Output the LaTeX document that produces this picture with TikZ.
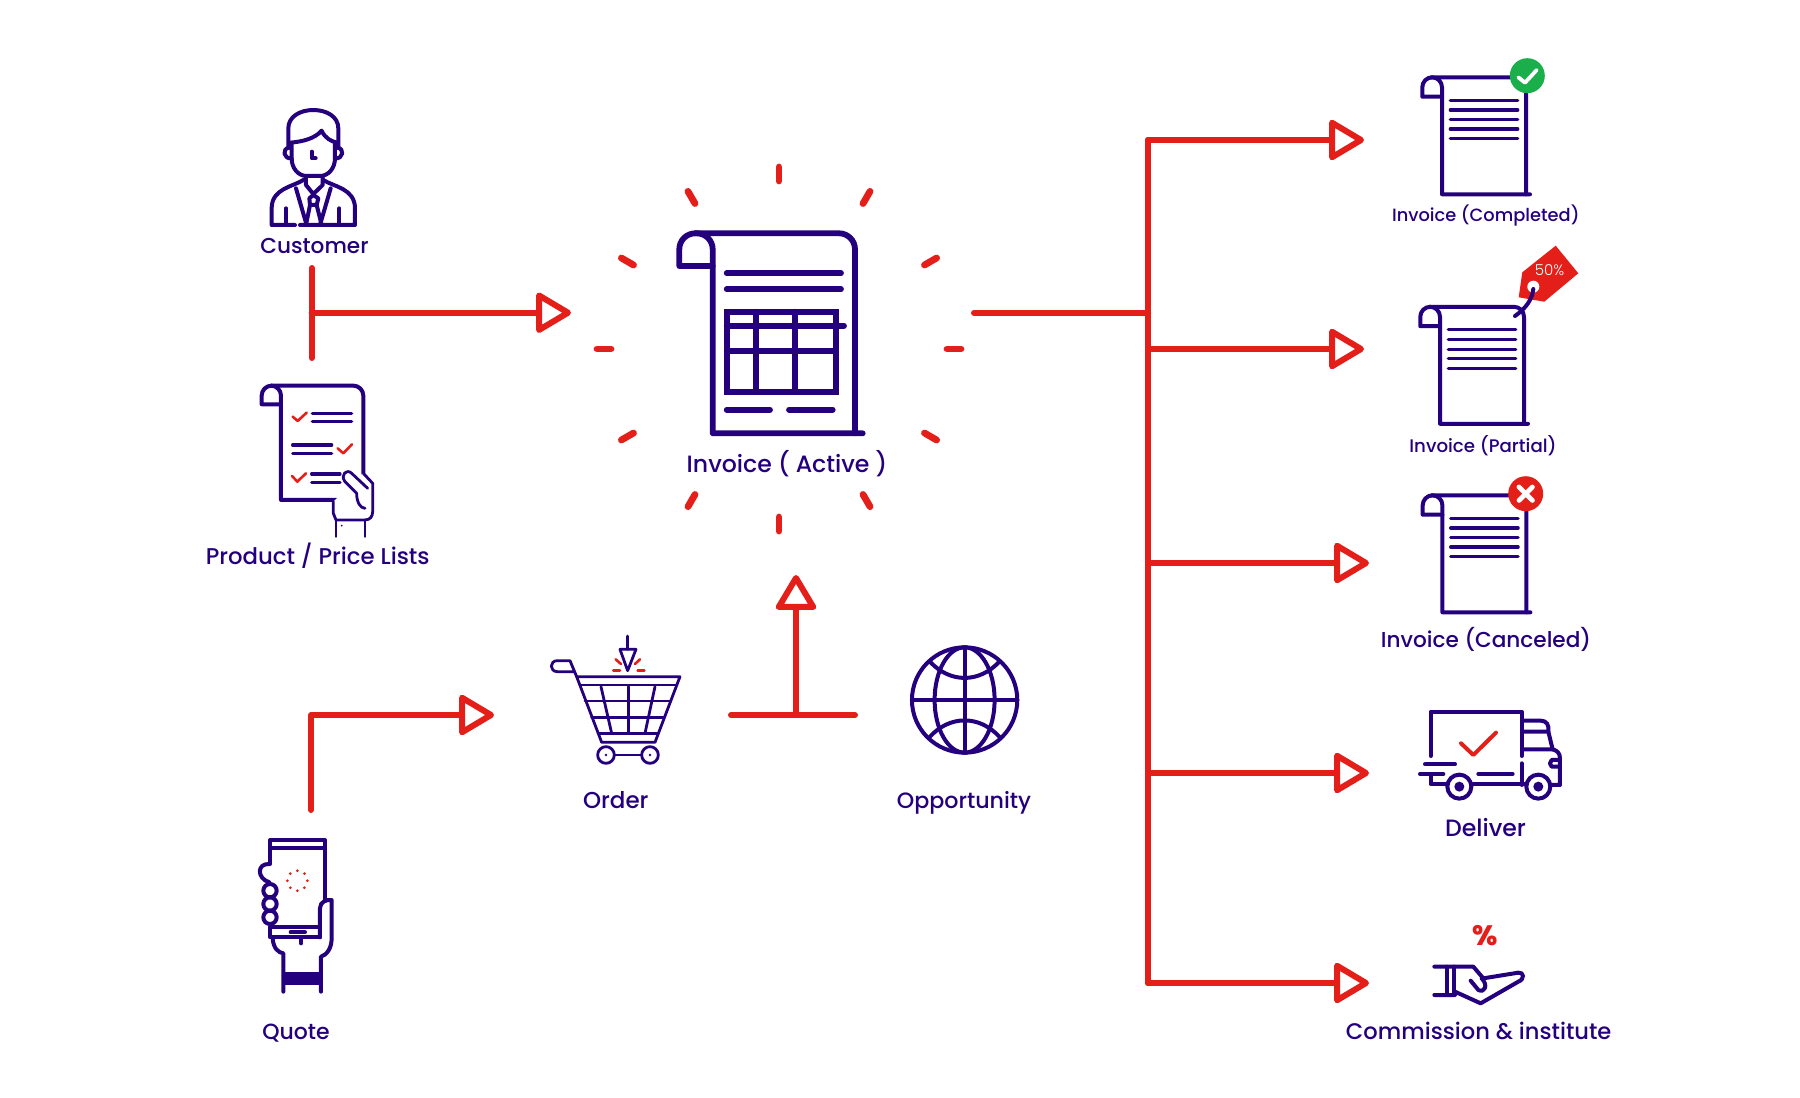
\documentclass[tikz,border=0pt]{standalone}
\usepackage{fontspec}
\setmainfont{Poppins Medium}
\newfontfamily\tagfont{Poppins Light}
\usetikzlibrary{arrows.meta}
\definecolor{navyline}{HTML}{24007F}
\definecolor{redline}{HTML}{E41F1A}
\definecolor{greenbadge}{HTML}{1AAF4B}
\tikzset{
    flow/.style={draw=redline, line width=3pt, line cap=round, line join=round},
    flowarrow/.style={flow, -{Triangle[open,round,length=19pt,width=21.7pt]}},
    ray/.style={draw=redline, line width=3.4pt, line cap=round},
    icon/.style={draw=navyline, line width=2pt, line cap=round, line join=round},
    bigicon/.style={draw=navyline, line width=2.9pt, line cap=round, line join=round},
    thinicon/.style={draw=navyline, line width=1.4pt, line cap=round, line join=round},
    redmark/.style={draw=redline, line width=1.3pt, line cap=round, line join=round},
    caption/.style={text=navyline, anchor=base, inner sep=0pt},
    pics/smalldoc/.style={code={
        \draw[icon] (19.7,19.4) -- (0,19.4) [rounded corners=5pt] -- (0,0) -- (103.7,0) [sharp corners] -- (103.7,117);
        \draw[icon] (107.7,117) -- (19.7,117) [rounded corners=5pt] -- (19.7,0) -- (9,0);
        \foreach \y in {23,32.7,42.4,51.7,61.4}
            \draw[icon, line width=1.65pt] (28,\y) -- (95.4,\y);
    }},
}
\begin{document}
\begin{tikzpicture}[x=0.5pt, y=-0.5pt]
    \useasboundingbox (0,0) rectangle (1800,1098);
    % Coordinate
    \coordinate (customerBar) at (311.7,268);
    \coordinate (productBar) at (311.7,358);
    \coordinate (inputJoin) at (311.7,312.7);
    \coordinate (inputEnd) at (571,312.7);
    \coordinate (quoteStart) at (311,810);
    \coordinate (quoteCorner) at (311,715);
    \coordinate (quoteEnd) at (494,715);
    \coordinate (orderBar) at (731,715);
    \coordinate (opportunityBar) at (855,715);
    \coordinate (orderJoin) at (796,715);
    \coordinate (orderEnd) at (796,575);
    \coordinate (outStart) at (974,312.7);
    \coordinate (outJoin) at (1148,312.7);
    \coordinate (busTop) at (1148,140);
    \coordinate (busBottom) at (1148,983);
    \coordinate (completedEnd) at (1364,140);
    \coordinate (partialJoin) at (1148,349);
    \coordinate (partialEnd) at (1364,349);
    \coordinate (canceledJoin) at (1148,563);
    \coordinate (canceledEnd) at (1369,563);
    \coordinate (deliverJoin) at (1148,773);
    \coordinate (deliverEnd) at (1369,773);
    \coordinate (commissionEnd) at (1369,983);
    \coordinate (burst) at (779,349);

    % Linee
    \draw[flow] (customerBar) -- (productBar);
    \draw[flowarrow] (inputJoin) -- (inputEnd);
    \draw[flowarrow] (quoteStart) -- (quoteCorner) -- (quoteEnd);
    \draw[flow] (orderBar) -- (opportunityBar);
    \draw[flowarrow] (orderJoin) -- (orderEnd);
    \draw[flow] (outStart) -- (outJoin);
    \draw[flowarrow] (busBottom) -- (commissionEnd);
    \draw[flowarrow] (busTop) -- (completedEnd);
    \draw[flow] (busTop) -- (busBottom);
    \draw[flowarrow] (partialJoin) -- (partialEnd);
    \draw[flowarrow] (canceledJoin) -- (canceledEnd);
    \draw[flowarrow] (deliverJoin) -- (deliverEnd);

    % Burst around the invoice
    \foreach \a in {0,30,...,330}
        \draw[ray] ([shift={(\a:168)}]burst) -- ([shift={(\a:182)}]burst);

    % Invoice active
    \draw[bigicon] (712.7,266) -- (679.3,266) [rounded corners=8pt] -- (679.3,233.3) -- (855,233.3) [sharp corners] -- (855,433.3);
    \draw[bigicon] (862.7,433.3) -- (712.7,433.3) [rounded corners=8pt] -- (712.7,233.3) -- (695,233.3);
    \draw[bigicon] (726.7,273.3) -- (841,273.3);
    \draw[bigicon] (726.7,289.3) -- (841,289.3);
    \draw[bigicon, line cap=butt, line join=miter] (726.7,311.7) rectangle (836,391.7);
    \draw[bigicon] (756,311.7) -- (756,391.7);
    \draw[bigicon] (794.7,311.7) -- (794.7,391.7);
    \draw[bigicon] (726.7,325.7) -- (844,325.7);
    \draw[bigicon] (726.7,351.3) -- (836,351.3);
    \draw[bigicon] (726.7,409.7) -- (770,409.7);
    \draw[bigicon] (789,409.7) -- (832.7,409.7);

    % Invoice completed
    \pic at (1422.3,77.3) {smalldoc};
    \fill[greenbadge] (1527.3,75.7) circle (17.5);
    \draw[draw=white, line width=1.9pt, line cap=round, line join=round] (1518.3,77.3) -- (1525,82.7) -- (1536.7,70);

    % Invoice partial
    \pic at (1420.3,306.8) {smalldoc};
    \fill[redline] (1555.7,245.7) -- (1578.3,273.3) -- (1544.3,301.7) -- (1518.7,297.3) -- (1522.3,272.3) -- cycle;
    \fill[white] (1533.3,286.7) circle (6);
    \node[text=white, font=\tagfont\fontsize{7.5}{8}\selectfont, inner sep=0pt] (tagText) at (1549.5,270.5) {50\%};
    \draw[icon] (1533.3,289) .. controls (1532,300) and (1526,308) .. (1515,316);

    % Invoice canceled
    \pic at (1422.7,495.3) {smalldoc};
    \fill[redline] (1525.7,493.7) circle (17.5);
    \draw[draw=white, line width=2.4pt, line cap=round] (1519,487) -- (1532.4,500.4);
    \draw[draw=white, line width=2.4pt, line cap=round] (1532.4,487) -- (1519,500.4);

    % Customer
    \begin{scope}[shift={(200,90)}, scale=0.3333]
        \draw[icon] (265,170) -- (265,115) .. controls (265,80) and (300,60) .. (340,60) .. controls (380,60) and (415,80) .. (415,115) -- (415,170);
        \draw[icon] (270,158) .. controls (310,155) and (345,145) .. (365,122) .. controls (375,145) and (395,155) .. (412,158);
        \draw[icon] (275,160) -- (275,205) .. controls (275,235) and (295,258) .. (320,258) -- (360,258) .. controls (385,258) and (405,235) .. (405,205) -- (405,160);
        \draw[icon] (268,173) .. controls (245,175) and (250,208) .. (275,205);
        \draw[icon] (412,173) .. controls (435,175) and (430,208) .. (405,205);
        \draw[icon] (335,185) -- (335,205) -- (347,205);
        \draw[icon] (318,262) -- (318,285) -- (340,312) -- (368,285) -- (368,262);
        \draw[icon] (310,270) .. controls (280,290) and (215,295) .. (215,355) -- (215,405) -- (285,405);
        \draw[icon] (370,270) .. controls (400,290) and (465,295) .. (465,355) -- (465,405) -- (300,405);
        \draw[icon] (258,355) -- (258,405);
        \draw[icon] (418,355) -- (418,405);
        \draw[icon] (288,295) -- (320,405);
        \draw[icon] (392,295) -- (360,405);
        \draw[icon] (328,325) -- (340,315) -- (355,325) -- (350,345) -- (330,345) -- cycle;
        \draw[icon] (330,345) -- (318,405);
        \draw[icon] (350,345) -- (365,405);
    \end{scope}

    % Product list
    \begin{scope}[shift={(200,90)}, scale=0.3333]
        \draw[icon] (243,943) -- (185,943) [rounded corners=5pt] -- (185,887) -- (490,887) [sharp corners] -- (490,1150);
        \draw[icon] (470,1230) -- (243,1230) [rounded corners=5pt] -- (243,887) -- (215,887);
        \draw[redmark] (278,980) -- (293,993) -- (320,968);
        \draw[redmark] (413,1075) -- (430,1090) -- (456,1063);
        \draw[redmark] (276,1158) -- (292,1175) -- (318,1150);
        \draw[icon, line width=1.65pt] (337,970) -- (455,970);
        \draw[icon, line width=1.65pt] (337,995) -- (455,995);
        \draw[icon, line width=1.65pt] (278,1065) -- (395,1065);
        \draw[icon, line width=1.65pt] (278,1090) -- (395,1090);
        \draw[icon, line width=1.65pt] (335,1152) -- (420,1152);
        \draw[icon, line width=1.65pt] (335,1177) -- (420,1177);
        \draw[thinicon, fill=white] (490,1150) -- (518,1180) -- (518,1265) .. controls (518,1280) and (510,1290) .. (495,1290) -- (408,1290) -- (400,1270) -- (400,1235);
        \draw[thinicon, fill=white] (503,1195) -- (455,1150) .. controls (440,1135) and (420,1155) .. (435,1175) -- (470,1210) .. controls (470,1235) and (480,1255) .. (495,1255);
        \draw[thinicon] (408,1290) -- (408,1340);
        \draw[thinicon] (495,1290) -- (495,1340);
        \fill[navyline] (425,1307) circle (3);
    \end{scope}

    % Order cart
    \begin{scope}[shift={(530,620)}, scale=0.3333]
        \draw[thinicon] (140,170) -- (120,122) -- (82,122) .. controls (58,122) and (58,155) .. (82,155) -- (132,155);
        \draw[thinicon] (140,170) -- (450,170) -- (375,367) -- (215,367) -- cycle;
        \draw[thinicon] (150,195) -- (440,195);
        \draw[thinicon] (165,243) -- (420,243);
        \draw[thinicon] (185,293) -- (402,293);
        \draw[thinicon] (205,340) -- (385,340);
        \draw[thinicon] (213,200) -- (245,340);
        \draw[thinicon] (295,200) -- (295,340);
        \draw[thinicon] (375,200) -- (345,340);
        \draw[thinicon] (228,405) circle (25);
        \draw[thinicon] (360,405) circle (25);
        \draw[thinicon] (253,405) -- (335,405);
        \fill[navyline] (228,405) circle (4);
        \fill[navyline] (360,405) circle (4);
        \draw[thinicon] (293,48) -- (293,88);
        \draw[thinicon] (270,88) -- (318,88) -- (293,152) -- cycle;
        \draw[redmark] (250,152) -- (270,152);
        \draw[redmark] (323,152) -- (343,152);
        \draw[redmark] (257,118) -- (273,132);
        \draw[redmark] (330,118) -- (315,132);
    \end{scope}

    % Opportunity globe
    \begin{scope}[shift={(530,620)}, scale=0.3333]
        \draw[icon] (1304,240) circle (158);
        \draw[icon] (1304,240) ellipse (90 and 158);
        \draw[icon] (1304,82) -- (1304,398);
        \draw[icon] (1146,240) -- (1462,240);
        \draw[icon] (1200,125) .. controls (1260,190) and (1348,190) .. (1408,125);
        \draw[icon] (1200,350) .. controls (1260,285) and (1348,285) .. (1408,350);
    \end{scope}

    % Quote phone
    \begin{scope}[shift={(240,820)}, scale=0.3333]
        \draw[icon] (90,132) -- (90,60) -- (255,60) -- (255,240);
        \draw[icon] (90,85) -- (255,85);
        \draw[icon] (90,322) -- (90,352) -- (240,352);
        \draw[icon] (90,322) -- (240,322);
        \draw[icon] (152,337) -- (195,337);
        \draw[icon] (183,355) -- (183,370);
        \draw[icon] (88,132) .. controls (50,130) and (50,175) .. (88,187);
        \foreach \y in {212,252,292}
            \draw[icon] (90,\y) circle (20);
        \draw[icon] (240,352) -- (240,265) .. controls (240,245) and (260,238) .. (275,240) -- (275,355) .. controls (275,385) and (260,405) .. (243,410) -- (243,515);
        \draw[icon] (98,355) .. controls (100,385) and (115,398) .. (130,400) -- (130,515);
        \fill[navyline] (130,455) rectangle (243,495);
        \foreach \a in {0,45,...,315}
            \fill[redline] ([shift={(\a:30)}]172,182) circle (4.5);
    \end{scope}

    % Deliver truck
    \begin{scope}[shift={(1360,470)}, scale=0.3333]
        \draw[icon] (212,858) -- (212,725) -- (485,725) -- (485,858);
        \draw[icon] (485,880) -- (485,945);
        \draw[icon] (490,752) -- (542,752) .. controls (560,752) and (568,765) .. (565,785) -- (492,785);
        \draw[icon] (565,785) -- (578,838) -- (492,838);
        \draw[icon] (578,838) .. controls (592,842) and (600,850) .. (600,865) -- (600,945) -- (570,945);
        \draw[icon] (600,870) -- (575,870) -- (570,880) -- (575,890) -- (600,890);
        \draw[icon] (340,942) -- (500,942);
        \draw[icon] (212,920) -- (212,942) -- (260,942);
        \draw[icon] (195,883) -- (285,883);
        \draw[icon] (180,912) -- (250,912);
        \draw[icon] (355,912) -- (458,912);
        \draw[icon] (298,950) circle (36);
        \draw[icon] (535,950) circle (36);
        \fill[navyline] (298,950) circle (15);
        \fill[navyline] (535,950) circle (15);
        \draw[draw=redline, line width=2pt, line cap=round, line join=round] (303,820) -- (340,855) -- (408,788);
    \end{scope}

    % Commission hand
    \begin{scope}[shift={(1340,900)}, scale=0.3333]
        \draw[icon] (283,200) -- (400,200) -- (430,235) -- (535,218) .. controls (552,215) and (555,238) .. (535,245) -- (422,310) -- (345,275) -- (345,285) -- (283,285);
        \draw[icon] (320,200) -- (320,285);
        \draw[icon] (342,200) -- (342,285);
        \draw[icon] (392,242) -- (415,270) .. controls (435,280) and (445,255) .. (425,235);
    \end{scope}
    \node[text=redline, font=\fontsize{14}{14}\bfseries\selectfont, inner sep=0pt] (percent) at (1485,936) {\%};

    % Writing space
    \node[caption, font=\fontsize{10.8}{13}\selectfont] (customer) at (314.5,253) {Customer};
    \node[caption, font=\fontsize{11.4}{13}\selectfont] (product) at (317.7,564) {Product / Price Lists};
    \node[caption, font=\fontsize{11.8}{14}\selectfont] (active) at (787,472.7) {Invoice ( Active )};
    \node[caption, font=\fontsize{8.9}{11}\selectfont] (completed) at (1485.8,221) {Invoice (Completed)};
    \node[caption, font=\fontsize{9.1}{11}\selectfont] (partial) at (1483,452.5) {Invoice (Partial)};
    \node[caption, font=\fontsize{10.8}{13}\selectfont] (canceled) at (1486,647.5) {Invoice (Canceled)};
    \node[caption, font=\fontsize{11.8}{13}\selectfont] (deliver) at (1485.5,836) {Deliver};
    \node[caption, font=\fontsize{11.3}{13}\selectfont] (commission) at (1478.7,1039.8) {Commission \& institute};
    \node[caption, font=\fontsize{11.5}{13}\selectfont] (order) at (615.8,808) {Order};
    \node[caption, font=\fontsize{11.1}{13}\selectfont] (opportunity) at (964,808) {Opportunity};
    \node[caption, font=\fontsize{11}{13}\selectfont] (quote) at (296,1039.5) {Quote};
\end{tikzpicture}
\end{document}
